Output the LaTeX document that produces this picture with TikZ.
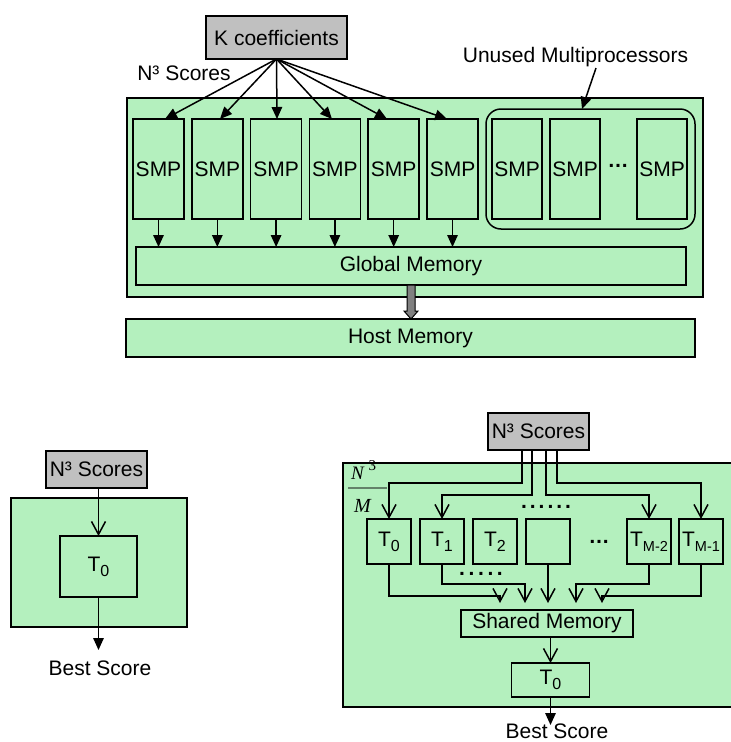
\documentclass[tikz,border=0pt]{standalone}
\usepackage{fontspec}
\setmainfont{Liberation Sans}
\newfontfamily\serifit{Liberation Serif}
\usetikzlibrary{arrows.meta,calc}
\definecolor{boxgreen}{RGB}{180,240,190}
\definecolor{boxgray}{RGB}{192,192,192}
\definecolor{fracbar}{RGB}{100,130,105}
\newcommand\Tsub[1]{T\raisebox{-5pt}{\fontsize{16}{16}\selectfont #1}}
\newcommand\dotrow[2]{\textbf{.}\foreach\i in {2,...,#1}{\kern#2\textbf{.}}}
\begin{document}
\begin{tikzpicture}[x=1pt,y=-1pt,
  every node/.style={font=\fontsize{21}{24}\selectfont, inner sep=0pt, outer sep=0pt},
  gbox/.style={draw, line width=1.5pt, fill=boxgreen},
  graybox/.style={draw, line width=1.5pt, fill=boxgray},
  sz/.style 2 args={minimum width=#1pt, minimum height=#2pt},
  farrow/.style={line width=1.5pt, -{Triangle[length=12pt,width=10.5pt]}},
  varrow/.style={line width=1.5pt, -{Straight Barb[length=13pt,width=14pt]}},
  blockarrow/.style={line width=1pt, fill=gray},
  lbl/.style={}]
\useasboundingbox (0,0) rectangle (731,742);
\clip (0,0) rectangle (731,742);

% ---------------- top part ----------------
\node[graybox, sz={141}{43}] (K) at (276.5,37.5) {K coefficients};
\node[lbl, anchor=base] (n3lab) at (184,80) {N³ Scores};
\node[lbl, anchor=base] (ulab) at (575.5,62.5) {Unused Multiprocessors};
\node[gbox, sz={576}{199}] (outer) at (415,197.5) {};
\node[draw, line width=1.5pt, rounded corners=15pt, sz={209}{120}] (urr) at (590.5,169) {};
\foreach \i/\x in {1/158.5,2/217.3,3/276.1,4/334.9,5/393.7,6/452.5}{
  \node[gbox, sz={51}{100}] (smp\i) at (\x,169) {SMP};
}
\node[gbox, sz={50}{100}] (smp7) at (517,169) {SMP};
\node[gbox, sz={50}{100}] (smp8) at (575,169) {SMP};
\node[gbox, sz={50}{100}] (smp9) at (662,169) {SMP};
\node[lbl] (udots) at (618,166) {\textbf{…}};
\node[gbox, sz={550}{38}] (gm) at (411,266) {Global Memory};
\node[gbox, sz={569}{38}] (hm) at (410.5,338) {Host Memory};

% arrows from K coefficients
\foreach \i/\dx in {1/6.5,2/2.7,3/0.9,4/-2.9,5/-6.7,6/-5.5}{
  \draw[farrow] (K.south) -- ($(smp\i.north)+(\dx,0)$);
}
% arrows into global memory
\foreach \i in {1,...,6}{
  \draw[farrow] (smp\i.south) -- (smp\i.south |- gm.north);
}
% unused label arrow
\coordinate (ua) at (596,68);
\draw[farrow] (ua) -- ($(urr.north)+(-8.5,0)$);
% block arrow global -> host
\draw[blockarrow] ($(gm.south)+(-4,0)$) -- ++(8,0) -- ++(0,26) -- ++(3,0)
  -- (gm.south |- hm.north) -- ++(-7,-8) -- ++(3,0) -- cycle;

% ---------------- bottom left ----------------
\node[gbox, sz={176}{129}] (gl) at (99,562.5) {};
\node[graybox, sz={101}{37}] (n3l) at (96.5,469.5) {N³ Scores};
\node[gbox, sz={77}{61}] (t0l) at (98.5,566.5) {\Tsub{0}};
\node[lbl, anchor=base] (bsl) at (100,675) {Best Score};
\draw[varrow] (n3l.south -| t0l.north) -- (t0l.north);
\coordinate (bsltip) at (98.5,650);
\draw[farrow] (t0l.south) -- (bsltip);

% ---------------- bottom right ----------------
\node[gbox, sz={392}{244}] (gr) at (539,585) {};
\node[graybox, sz={101}{37}] (n3r) at (538.5,431.5) {N³ Scores};
\node[lbl, anchor=base west] (fracN) at (351,479) {\serifit\fontsize{19}{20}\selectfont\itshape N\hspace{5pt}\raisebox{9pt}{\upshape\fontsize{15}{15}\selectfont 3}};
\node[lbl, anchor=base west] (fracM) at (354,512) {\serifit\fontsize{20}{20}\selectfont\itshape M};
\draw[fracbar, line width=1.8pt] (348,488) -- (387,488);

\node[gbox, sz={44}{45}] (tr0) at (389,541.5) {\Tsub{0}};
\node[gbox, sz={44}{45}] (tr1) at (442,541.5) {\Tsub{1}};
\node[gbox, sz={44}{45}] (tr2) at (495,541.5) {\Tsub{2}};
\node[gbox, sz={44}{45}] (trb) at (548,541.5) {};
\node[gbox, sz={44}{45}] (trm2) at (649,541.5) {T\raisebox{-5pt}{\fontsize{14.5}{15}\selectfont M-2}};
\node[gbox, sz={44}{45}] (trm1) at (701,541.5) {T\raisebox{-5pt}{\fontsize{14.5}{15}\selectfont M-1}};
\node[lbl] (dots6) at (546,507) {\dotrow{6}{3pt}};
\node[lbl] (dots3) at (599,542) {\textbf{…}};
\node[lbl] (dots5) at (481,574) {\dotrow{5}{3.6pt}};

\node[gbox, sz={172}{27}] (sm) at (547,623.5) {Shared Memory};
\node[gbox, sz={78}{34}] (tf) at (550.5,680) {\Tsub{0}};
\node[lbl, anchor=base] (bsr) at (557,738) {Best Score};

% distribution from N3 scores
\draw[varrow] ($(n3r.south)+(-16.5,0)$) -- ++(0,33) -| (tr0.north);
\draw[varrow] ($(n3r.south)+(-6.5,0)$) -- ++(0,45) -| (tr1.north);
\draw[varrow] ($(n3r.south)+(7.5,0)$) -- ++(0,45) -| (trm2.north);
\draw[varrow] ($(n3r.south)+(18.5,0)$) -- ++(0,33) -| (trm1.north);

% collection into shared memory
\coordinate (s1) at (500,603);
\coordinate (s2) at (525,603);
\coordinate (s3) at (548,603);
\coordinate (s4) at (576,603);
\coordinate (s5) at (602,603);
\draw[varrow] (tr0.south) -- ++(0,32) -| (s1);
\draw[varrow] (tr1.south) -- ++(0,20) -| (s2);
\draw[varrow] (trb.south) -- (s3);
\draw[varrow] (trm2.south) -- ++(0,20) -| (s4);
\draw[varrow] (trm1.south) -- ++(0,32) -| (s5);

\draw[varrow] (tf.north |- sm.south) -- (tf.north);
\coordinate (bsrtip) at (550.5,725);
\draw[farrow] (tf.south) -- (bsrtip);
\end{tikzpicture}
\end{document}
